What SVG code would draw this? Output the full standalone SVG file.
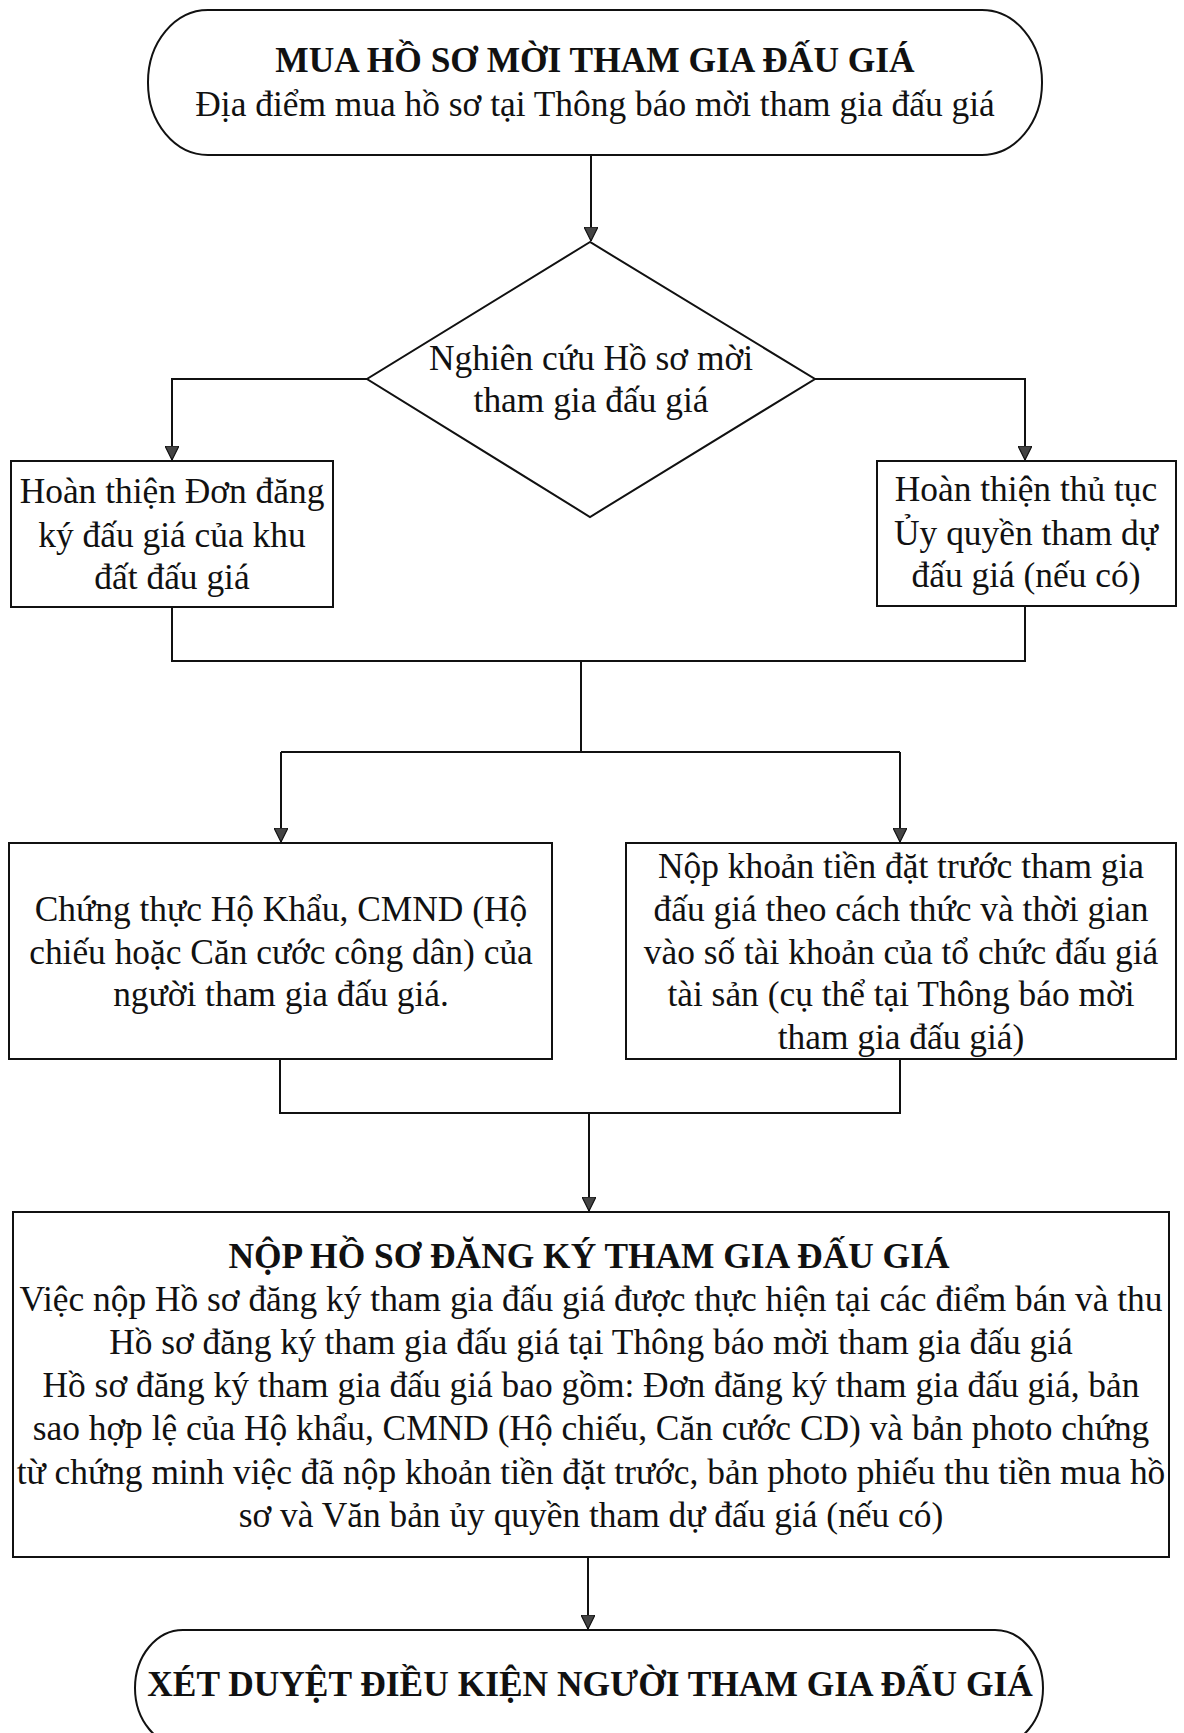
<svg xmlns="http://www.w3.org/2000/svg" width="1184" height="1733" viewBox="0 0 1184 1733">
<defs>
<style>
.shape{fill:#fff;stroke:#111;stroke-width:2}
.conn{fill:none;stroke:#111;stroke-width:2}
text{font-family:"Liberation Serif","Times New Roman",serif;font-size:35.4px;fill:#111;text-anchor:middle}
.b{font-weight:bold}
</style>
<marker id="ah" viewBox="0 0 14 14" refX="14" refY="7" markerWidth="14" markerHeight="14" markerUnits="userSpaceOnUse" orient="auto">
<path d="M0,0 L14,7 L0,14 Z" fill="#444" stroke="#111" stroke-width="1.2"/>
</marker>
</defs>
<rect width="1184" height="1733" fill="#fff"/>
<g id="connectors">
<path class="conn" d="M591,155 V241" marker-end="url(#ah)"/>
<path class="conn" d="M367,379 H172 V460" marker-end="url(#ah)"/>
<path class="conn" d="M815,379 H1025 V460" marker-end="url(#ah)"/>
<path class="conn" d="M172,607 V661 H1025 V606"/>
<path class="conn" d="M581,661 V752"/>
<path class="conn" d="M281,752 H900"/>
<path class="conn" d="M281,752 V842" marker-end="url(#ah)"/>
<path class="conn" d="M900,752 V842" marker-end="url(#ah)"/>
<path class="conn" d="M280,1059 V1113 H900 V1059"/>
<path class="conn" d="M589,1113 V1211" marker-end="url(#ah)"/>
<path class="conn" d="M588,1557 V1629" marker-end="url(#ah)"/>
</g>
<g id="start">
<rect class="shape" x="148" y="10" width="894" height="145" rx="60" ry="72"/>
<text class="b" x="595" y="72">MUA HỒ SƠ MỜI THAM GIA ĐẤU GIÁ</text>
<text x="595" y="116">Địa điểm mua hồ sơ tại Thông báo mời tham gia đấu giá</text>
</g>
<g id="decision">
<polygon class="shape" points="590,242 367,379 590,517 815,379"/>
<text x="591" y="370">Nghiên cứu Hồ sơ mời</text>
<text x="591" y="412">tham gia đấu giá</text>
</g>
<g id="box-don">
<rect class="shape" x="11" y="461" width="322" height="146"/>
<text x="172" y="503">Hoàn thiện Đơn đăng</text>
<text x="172" y="547">ký đấu giá của khu</text>
<text x="172" y="589">đất đấu giá</text>
</g>
<g id="box-uyquyen">
<rect class="shape" x="877" y="461" width="299" height="145"/>
<text x="1026" y="501">Hoàn thiện thủ tục</text>
<text x="1026" y="545">Ủy quyền tham dự</text>
<text x="1026" y="587">đấu giá (nếu có)</text>
</g>
<g id="box-chungthuc">
<rect class="shape" x="9" y="843" width="543" height="216"/>
<text x="281" y="921">Chứng thực Hộ Khẩu, CMND (Hộ</text>
<text x="281" y="964">chiếu hoặc Căn cước công dân) của</text>
<text x="281" y="1006">người tham gia đấu giá.</text>
</g>
<g id="box-noptien">
<rect class="shape" x="626" y="843" width="550" height="216"/>
<text x="901" y="878">Nộp khoản tiền đặt trước tham gia</text>
<text x="901" y="921">đấu giá theo cách thức và thời gian</text>
<text x="901" y="964">vào số tài khoản của tổ chức đấu giá</text>
<text x="901" y="1006">tài sản (cụ thể tại Thông báo mời</text>
<text x="901" y="1049">tham gia đấu giá)</text>
</g>
<g id="box-nophoso">
<rect class="shape" x="13" y="1212" width="1156" height="345"/>
<text class="b" x="589" y="1268">NỘP HỒ SƠ ĐĂNG KÝ THAM GIA ĐẤU GIÁ</text>
<text x="591" y="1311">Việc nộp Hồ sơ đăng ký tham gia đấu giá được thực hiện tại các điểm bán và thu</text>
<text x="591" y="1354">Hồ sơ đăng ký tham gia đấu giá tại Thông báo mời tham gia đấu giá</text>
<text x="591" y="1397">Hồ sơ đăng ký tham gia đấu giá bao gồm: Đơn đăng ký tham gia đấu giá, bản</text>
<text x="591" y="1440">sao hợp lệ của Hộ khẩu, CMND (Hộ chiếu, Căn cước CD) và bản photo chứng</text>
<text x="591" y="1484">từ chứng minh việc đã nộp khoản tiền đặt trước, bản photo phiếu thu tiền mua hồ</text>
<text x="591" y="1527">sơ và Văn bản ủy quyền tham dự đấu giá (nếu có)</text>
</g>
<g id="end">
<rect class="shape" x="135" y="1630" width="908" height="116" rx="48" ry="58"/>
<text class="b" x="590" y="1696">XÉT DUYỆT ĐIỀU KIỆN NGƯỜI THAM GIA ĐẤU GIÁ</text>
</g>
</svg>
